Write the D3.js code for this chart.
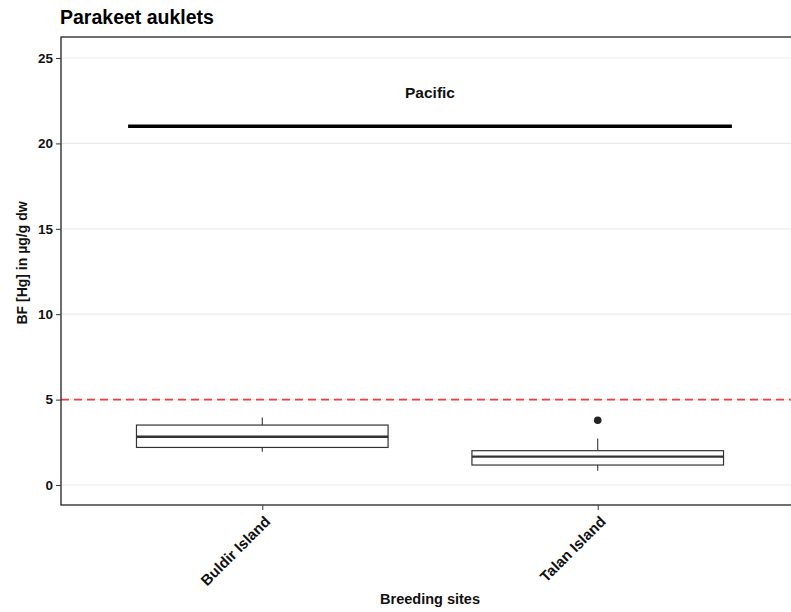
<!DOCTYPE html>
<html><head><meta charset="utf-8">
<script src="https://cdn.jsdelivr.net/npm/d3@7"></script>
<style>body{margin:0;background:#fff}text{font-family:"Liberation Sans",Arial,sans-serif}</style>
</head><body><svg id="c" width="791" height="612"></svg>
<script>
const categories = ["Buldir Island", "Talan Island"];
const lowerWhisker = [1.95, 0.84];
const q1 = [2.2, 1.17];
const median = [2.83, 1.66];
const q3 = [3.51, 2.01];
const upperWhisker = [3.96, 2.73];
const outliers = [[], [3.79]];
const yTicks = [0, 5, 10, 15, 20, 25];
const refLine = 5;
const pacificSeg = {x0: 0.6, x1: 2.4, y: 21, label: "Pacific", labelX: 1.5, labelY: 23};

const svg = d3.select("#c");
const L = 61, T = 37, B = 505, R = 799;
const y = d3.scaleLinear().domain([-1.17, 26.23]).range([B, T]);
const x = d3.scaleLinear().domain([0.4, 2.6]).range([L, R]);
const bandW = (x(2) - x(1)) * 0.75;
const FF = '"Liberation Sans",Arial,sans-serif';

const g = svg.append("g");
// grid
g.selectAll(".grid").data(yTicks).join("line")
  .attr("x1", L).attr("x2", R).attr("y1", d => y(d)).attr("y2", d => y(d))
  .attr("stroke", "#ebebeb").attr("stroke-width", 1.2);

// boxes
categories.forEach((c, i) => {
  const cx = x(i + 1);
  g.append("line").attr("x1", cx).attr("x2", cx).attr("y1", y(upperWhisker[i])).attr("y2", y(q3[i]))
    .attr("stroke", "#333").attr("stroke-width", 1.1);
  g.append("line").attr("x1", cx).attr("x2", cx).attr("y1", y(q1[i])).attr("y2", y(lowerWhisker[i]))
    .attr("stroke", "#333").attr("stroke-width", 1.1);
  g.append("rect").attr("x", cx - bandW / 2).attr("width", bandW)
    .attr("y", y(q3[i])).attr("height", y(q1[i]) - y(q3[i]))
    .attr("fill", "#fff").attr("stroke", "#333").attr("stroke-width", 1.2);
  g.append("line").attr("x1", cx - bandW / 2).attr("x2", cx + bandW / 2)
    .attr("y1", y(median[i])).attr("y2", y(median[i]))
    .attr("stroke", "#333").attr("stroke-width", 2.4);
  outliers[i].forEach(o => {
    g.append("circle").attr("cx", cx).attr("cy", y(o)).attr("r", 3.8).attr("fill", "#222");
  });
});

// red dashed
g.append("line").attr("x1", L).attr("x2", R).attr("y1", y(refLine)).attr("y2", y(refLine))
  .attr("stroke", "#f53b3b").attr("stroke-width", 1.6).attr("stroke-dasharray", "8,5");

// pacific segment
g.append("line").attr("x1", x(pacificSeg.x0)).attr("x2", x(pacificSeg.x1))
  .attr("y1", y(pacificSeg.y)).attr("y2", y(pacificSeg.y))
  .attr("stroke", "#000").attr("stroke-width", 3.5).attr("stroke-linecap", "butt");
g.append("text").attr("x", x(pacificSeg.labelX)).attr("y", y(pacificSeg.labelY))
  .attr("text-anchor", "middle").attr("dy", "0.35em")
  .attr("font-size", 15.5).attr("font-weight", "bold").attr("fill", "#111").text(pacificSeg.label);

// border
g.append("rect").attr("x", L).attr("y", T).attr("width", R - L).attr("height", B - T)
  .attr("fill", "none").attr("stroke", "#222").attr("stroke-width", 1.3);

// y axis
const ya = svg.append("g").attr("transform", `translate(${L},0)`)
  .call(d3.axisLeft(y).tickValues(yTicks).tickSize(5).tickPadding(3));
ya.select(".domain").remove();
ya.selectAll("line").attr("stroke", "#333");
ya.selectAll("text").attr("font-size", 13.5).attr("font-weight", "bold").attr("fill", "#111")
  .style("font-family", FF);

// x axis
const xa = svg.append("g").attr("transform", `translate(0,${B})`)
  .call(d3.axisBottom(x).tickValues([1, 2]).tickFormat(d => categories[d - 1]).tickSize(5).tickPadding(3));
xa.select(".domain").remove();
xa.selectAll("line").attr("stroke", "#333");
xa.selectAll("text").attr("font-size", 15).attr("font-weight", "bold").attr("fill", "#111")
  .style("font-family", FF)
  .attr("text-anchor", "end").attr("y", null).attr("dx", "0")
  .attr("transform", "translate(1,10) rotate(-45)").attr("dy", "0.7em");

// titles
svg.append("text").attr("x", 60).attr("y", 24).attr("font-size", 19.5).attr("font-weight", "bold")
  .attr("fill", "#000").text("Parakeet auklets");
svg.append("text").attr("x", 430).attr("y", 604).attr("text-anchor", "middle")
  .attr("font-size", 14.5).attr("font-weight", "bold").attr("fill", "#111").text("Breeding sites");
svg.append("text").attr("transform", `translate(27,${(T + B) / 2 - 8}) rotate(-90)`)
  .attr("text-anchor", "middle").attr("font-size", 14).attr("font-weight", "bold")
  .attr("fill", "#111").text("BF [Hg] in µg/g dw");
</script></body></html>
